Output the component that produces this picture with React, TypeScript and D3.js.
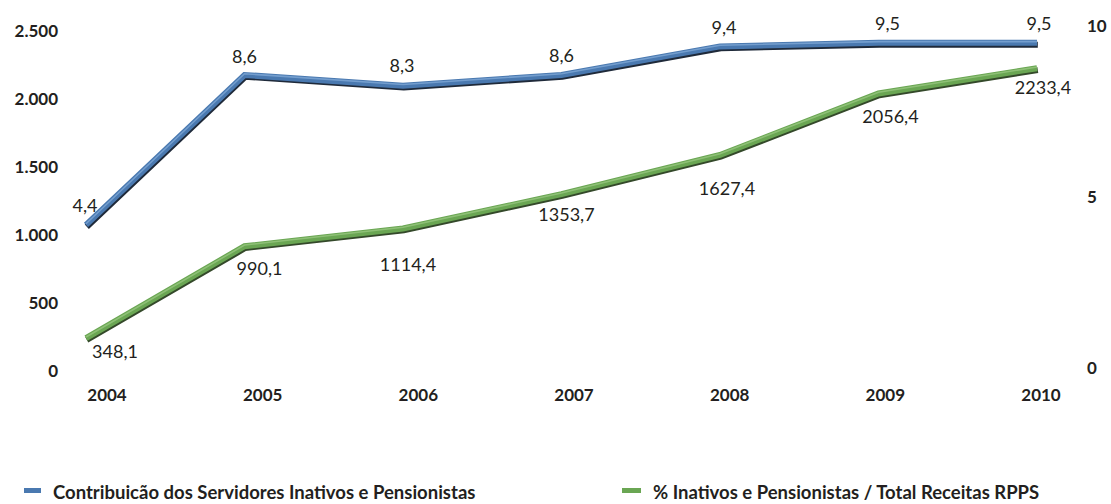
import React from "react";
import * as d3 from "d3";

// ---- data ----
const years = ["2004", "2005", "2006", "2007", "2008", "2009", "2010"];
const contribValues = [348.1, 990.1, 1114.4, 1353.7, 1627.4, 2056.4, 2233.4]; // left axis (green)
const pctValues = [4.4, 8.6, 8.3, 8.6, 9.4, 9.5, 9.5]; // right axis (blue)
const leftTicks = [0, 500, 1000, 1500, 2000, 2500];
const rightTicks = [0, 5, 10];
const legendBlue = "Contribuicão dos Servidores Inativos e Pensionistas";
const legendGreen = "% Inativos e Pensionistas / Total Receitas RPPS";

// ---- layout (label nudges, not data) ----
const greenLabelNudge: [number, number][] = [
  [29, 13], [15, 22], [5, 36], [5, 20], [7, 34], [12, 23], [6, 19],
];
const blueLabelNudge: [number, number][] = [
  [-1, -19], [0, -18], [-1, -20], [0, -19], [4, -19], [9, -19], [2, -19],
];

const W = 1111;
const H = 504;
const FONT = "Lato, 'Open Sans', sans-serif";
const TXT = "#231f20";

const loc = d3.formatLocale({ decimal: ",", thousands: ".", grouping: [3], currency: ["R$", ""] });
const fmtTick = loc.format(",");
const fmtVal = loc.format(".1f");

export default function App() {
  const xLine = d3.scalePoint<string>().domain(years).range([86, 1037]);
  const xLabel = d3.scalePoint<string>().domain(years).range([107, 1041]);
  const yGreen = d3.scaleLinear().domain([0, 2500]).range([388, 30]);
  const yBlue = d3.scaleLinear().domain([0, 10]).range([382, 25]);
  const yLeftAxis = d3.scaleLinear().domain([0, 2500]).range([371, 31]);
  const yRightAxis = d3.scaleLinear().domain([0, 10]).range([368, 26]);

  const greenLine = d3
    .line<number>()
    .x((_, i) => xLine(years[i]) as number)
    .y((d) => yGreen(d));
  const blueLine = d3
    .line<number>()
    .x((_, i) => xLine(years[i]) as number)
    .y((d) => yBlue(d));

  const gPath = greenLine(contribValues) || "";
  const bPath = blueLine(pctValues) || "";

  const drawLine3D = (d: string, main: string, dark: string, light: string) => (
    <g fill="none" strokeLinejoin="miter" strokeLinecap="butt">
      <path d={d} stroke={dark} strokeWidth={6} transform="translate(0.8,1.8)" />
      <path d={d} stroke={main} strokeWidth={6} />
      <path d={d} stroke={light} strokeWidth={1.6} transform="translate(0,-1.2)" opacity={0.8} />
    </g>
  );

  return (
    <svg
      width={W}
      height={H}
      style={{ position: "absolute", left: 0, top: 0, background: "#ffffff" }}
      fontFamily={FONT}
    >
      <rect width={W} height={H} fill="#ffffff" />
      {/* left axis labels */}
      {leftTicks.map((t) => (
        <text
          key={"l" + t}
          x={58}
          y={yLeftAxis(t) + 6}
          textAnchor="end"
          fontSize={17}
          fontWeight="bold"
          fill={TXT}
        >
          {fmtTick(t)}
        </text>
      ))}
      {/* right axis labels */}
      {rightTicks.map((t) => (
        <text
          key={"r" + t}
          x={1087}
          y={yRightAxis(t) + 6}
          textAnchor="start"
          fontSize={17}
          fontWeight="bold"
          fill={TXT}
        >
          {fmtTick(t)}
        </text>
      ))}
      {/* year labels */}
      {years.map((y) => (
        <text
          key={"y" + y}
          x={xLabel(y)}
          y={401}
          textAnchor="middle"
          fontSize={17}
          fontWeight="bold"
          fill={TXT}
        >
          {y}
        </text>
      ))}

      {drawLine3D(gPath, "#6aa653", "#34492a", "#97c77f")}
      {drawLine3D(bPath, "#4a79b0", "#1f2a3a", "#7ea7d6")}

      {/* green data labels */}
      {contribValues.map((v, i) => (
        <text
          key={"gv" + i}
          x={(xLine(years[i]) as number) + greenLabelNudge[i][0]}
          y={yGreen(v) + greenLabelNudge[i][1] + 6.5}
          textAnchor="middle"
          fontSize={18}
          fill={TXT}
        >
          {fmtVal(v)}
        </text>
      ))}
      {/* blue data labels */}
      {pctValues.map((v, i) => (
        <text
          key={"bv" + i}
          x={(xLine(years[i]) as number) + blueLabelNudge[i][0]}
          y={yBlue(v) + blueLabelNudge[i][1] + 6.5}
          textAnchor="middle"
          fontSize={18}
          fill={TXT}
        >
          {fmtVal(v)}
        </text>
      ))}

      {/* legend */}
      <rect x={24} y={488} width={17} height={5} fill="#4a79b0" />
      <text x={53} y={499} fontSize={18.5} fontWeight="bold" fill={TXT}>
        {legendBlue}
      </text>
      <rect x={622} y={488} width={19} height={5} fill="#6aa653" />
      <text x={653} y={499} fontSize={18.5} fontWeight="bold" fill={TXT}>
        {legendGreen}
      </text>
    </svg>
  );
}
